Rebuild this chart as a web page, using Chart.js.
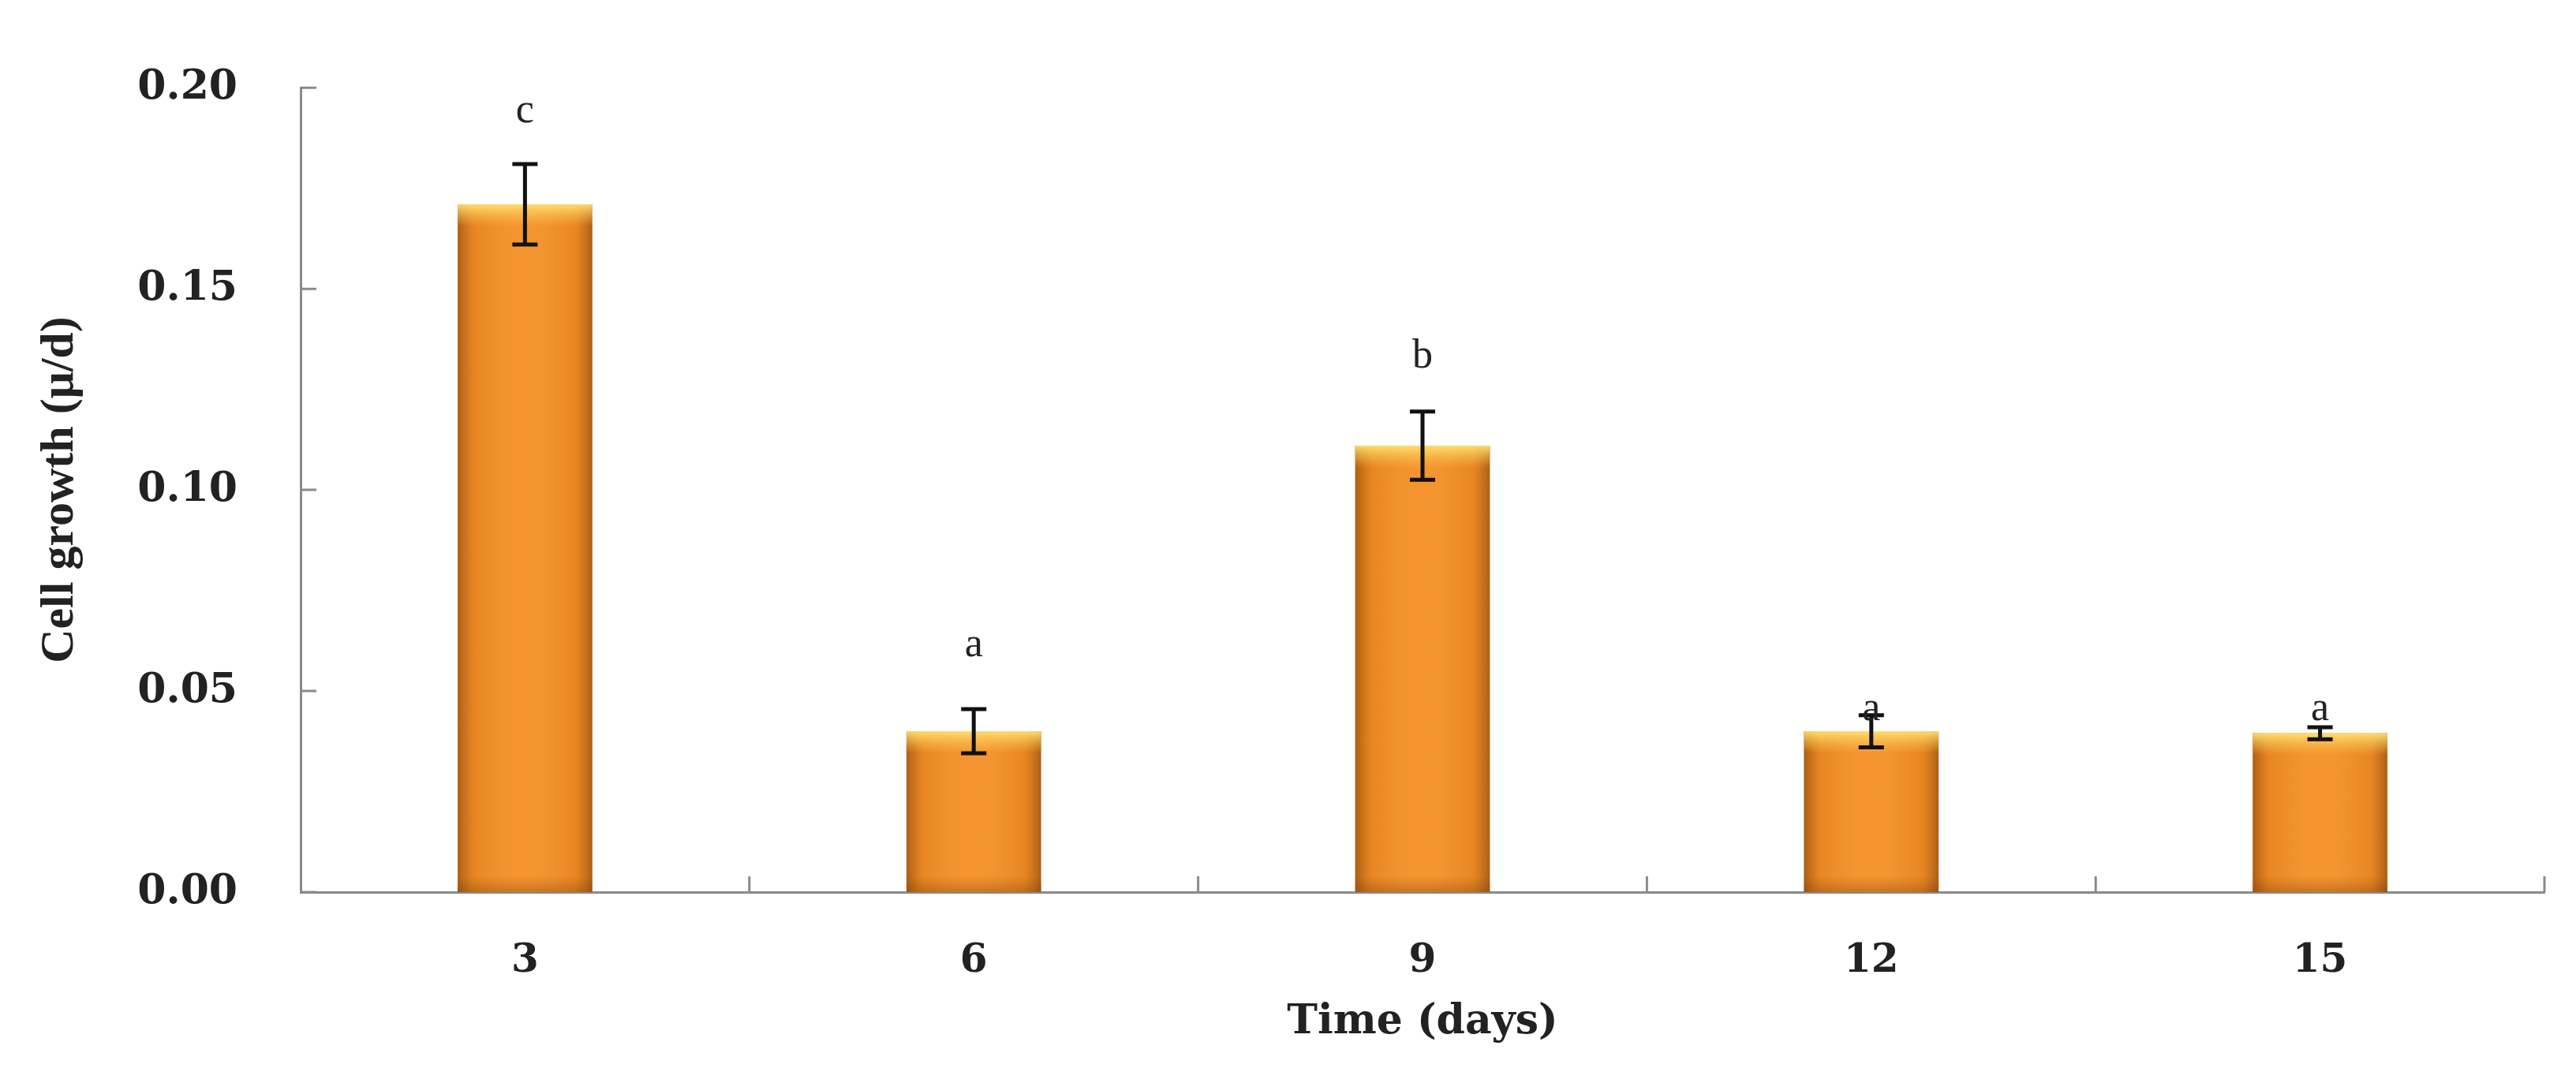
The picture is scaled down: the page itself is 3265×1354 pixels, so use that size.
<!DOCTYPE html>
<html><head><meta charset="utf-8">
<script src="https://cdn.jsdelivr.net/npm/chart.js@4"></script>
<style>html,body{margin:0;padding:0;background:#fff}#w{width:3265px;height:1354px}</style>
</head><body><div id="w"><canvas id="c"></canvas></div>
<script>
const categories = ["3","6","9","12","15"];
const values = [0.171, 0.040, 0.111, 0.040, 0.0395];
const errors = [0.010, 0.0055, 0.0085, 0.004, 0.0015];
const letters = ["c","a","b","a","a"];
const letterY = [0.194, 0.0614, 0.133, 0.0455, 0.0455];
const yTicks = [0, 0.05, 0.10, 0.15, 0.20];

const deco = {
  id:'deco',
  afterDatasetsDraw(chart){
    const c = chart.ctx, y = chart.scales.y, x = chart.scales.x;
    const meta = chart.getDatasetMeta(0);
    meta.data.forEach((b,i)=>{
      const l = b.x - b.width/2, r = b.x + b.width/2, t = b.y, bt = b.base;
      let g = c.createLinearGradient(l,0,r,0);
      g.addColorStop(0,'rgba(110,55,10,0.55)');
      g.addColorStop(0.12,'rgba(150,80,20,0.15)');
      g.addColorStop(0.5,'rgba(255,255,255,0.05)');
      g.addColorStop(0.88,'rgba(150,80,20,0.15)');
      g.addColorStop(1,'rgba(110,55,10,0.55)');
      c.fillStyle = g; c.fillRect(l,t,r-l,bt-t);
      let gv = c.createLinearGradient(0,t,0,bt);
      gv.addColorStop(0,'rgba(255,230,120,0.9)');
      gv.addColorStop(Math.min(0.6,28/(bt-t)),'rgba(255,200,80,0)');
      gv.addColorStop(Math.max(0.6,1-20/(bt-t)),'rgba(120,60,10,0)');
      gv.addColorStop(1,'rgba(120,60,10,0.35)');
      c.fillStyle = gv; c.fillRect(l,t,r-l,bt-t);
      const hi = y.getPixelForValue(values[i]+errors[i]), lo = y.getPixelForValue(values[i]-errors[i]);
      c.strokeStyle='#111'; c.lineWidth=5;
      c.beginPath(); c.moveTo(b.x,hi); c.lineTo(b.x,lo);
      c.moveTo(b.x-16,hi); c.lineTo(b.x+16,hi);
      c.moveTo(b.x-16,lo); c.lineTo(b.x+16,lo); c.stroke();
      c.fillStyle='#222'; c.font='52px "Liberation Serif"'; c.textAlign='center'; c.textBaseline='middle';
      c.fillText(letters[i], b.x, y.getPixelForValue(letterY[i]));
    });
    c.strokeStyle='#8a8a8a'; c.lineWidth=3; c.beginPath();
    yTicks.forEach(v=>{const p=y.getPixelForValue(v); c.moveTo(x.left,p); c.lineTo(x.left+20,p);});
    for(let k=1;k<=categories.length;k++){const p=x.left+(x.right-x.left)*k/categories.length; c.moveTo(p,y.bottom); c.lineTo(p,y.bottom-20);}
    c.stroke();
  }
};

new Chart(document.getElementById('c'),{
  type:'bar',
  data:{labels:categories,datasets:[{data:values,backgroundColor:'#F58F24',barPercentage:0.3,categoryPercentage:1}]},
  options:{
    responsive:true,maintainAspectRatio:false,animation:false,
    layout:{padding:{left:40,top:73,right:40,bottom:0}},
    plugins:{legend:{display:false},tooltip:{enabled:false}},
    scales:{
      x:{grid:{display:false,drawTicks:false},border:{display:true,color:'#8a8a8a',width:3},
        ticks:{color:'#222',padding:58,font:{family:'DejaVu Serif',weight:'bold',size:50}},
        title:{display:true,text:'Time (days)',color:'#222',padding:{top:0,bottom:26},font:{family:'DejaVu Serif',weight:'bold',size:52}},
        afterFit:s=>{s.height=223;}},
      y:{min:0,max:0.2,grid:{display:false,drawTicks:false},border:{display:true,color:'#8a8a8a',width:3},
        afterBuildTicks:s=>{s.ticks=yTicks.map(v=>({value:v}));},
        ticks:{color:'#222',padding:80,callback:v=>v.toFixed(2),font:{family:'DejaVu Serif',weight:'bold',size:52}},
        title:{display:true,text:'Cell growth (μ/d)',color:'#222',padding:0,font:{family:'Liberation Serif',weight:'bold',size:60}},
        afterFit:s=>{s.width=341;}}
    }
  },
  plugins:[deco]
});
</script></body></html>
